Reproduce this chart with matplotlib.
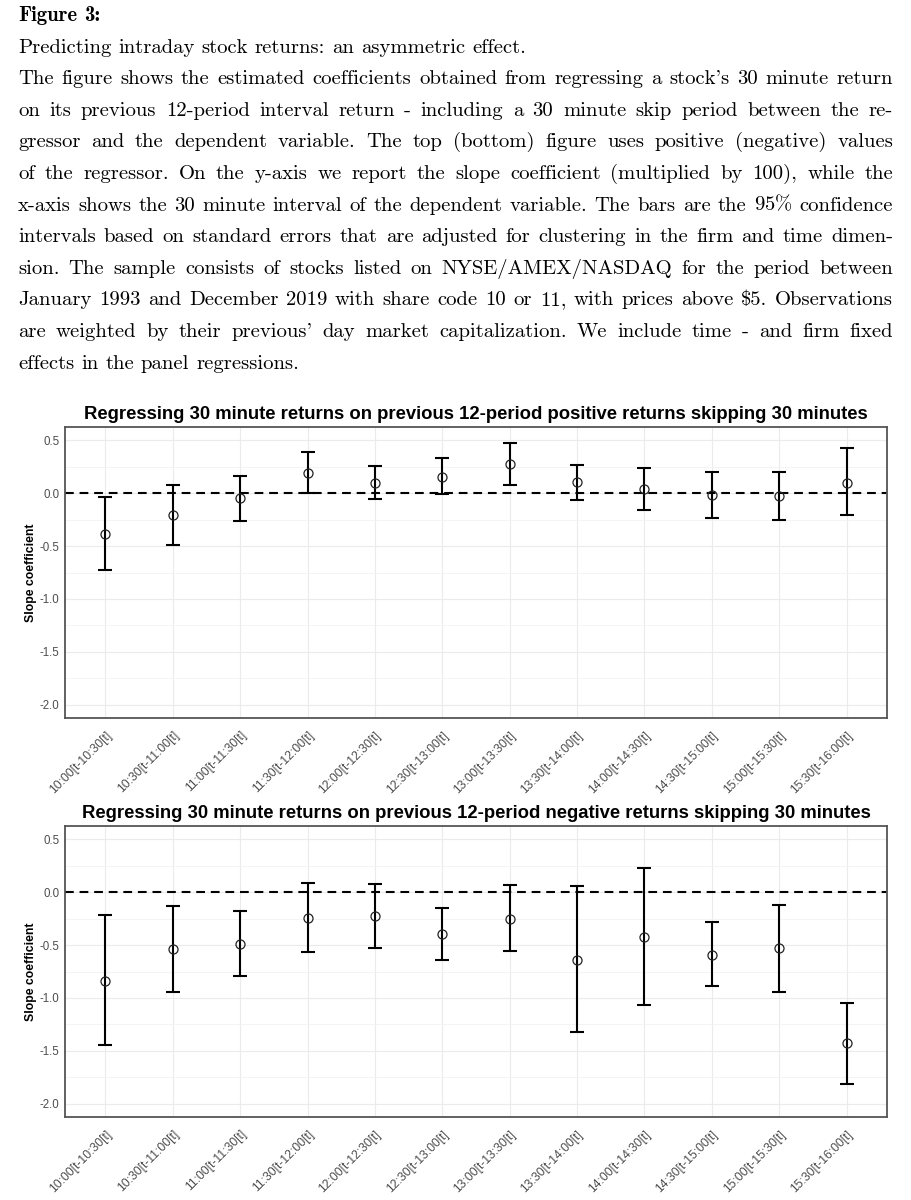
import matplotlib
matplotlib.use('Agg')
import matplotlib.pyplot as plt
import numpy as np
from matplotlib.ticker import MultipleLocator, FormatStrFormatter
from matplotlib.transforms import ScaledTranslation

plt.rcParams['mathtext.fontset'] = 'cm'

# ---------------- data ----------------
categories = ["10:00[t-10:30[t]", "10:30[t-11:00[t]", "11:00[t-11:30[t]", "11:30[t-12:00[t]",
              "12:00[t-12:30[t]", "12:30[t-13:00[t]", "13:00[t-13:30[t]", "13:30[t-14:00[t]",
              "14:00[t-14:30[t]", "14:30[t-15:00[t]", "15:00[t-15:30[t]", "15:30[t-16:00[t]"]

pos_coef = [-0.385, -0.21, -0.05, 0.195, 0.095, 0.15, 0.275, 0.105, 0.04, -0.015, -0.025, 0.10]
pos_lower = [-0.73, -0.49, -0.26, 0.0, -0.055, -0.005, 0.08, -0.065, -0.155, -0.235, -0.25, -0.21]
pos_upper = [-0.04, 0.08, 0.165, 0.39, 0.255, 0.33, 0.475, 0.27, 0.235, 0.20, 0.20, 0.425]

neg_coef = [-0.837, -0.54, -0.493, -0.246, -0.23, -0.40, -0.252, -0.637, -0.427, -0.59, -0.53, -1.425]
neg_lower = [-1.448, -0.947, -0.797, -0.568, -0.528, -0.64, -0.56, -1.326, -1.069, -0.887, -0.94, -1.81]
neg_upper = [-0.218, -0.127, -0.174, 0.086, 0.08, -0.152, 0.07, 0.055, 0.227, -0.283, -0.12, -1.047]

title_pos = "Regressing 30 minute returns on previous 12-period positive returns skipping 30 minutes"
title_neg = "Regressing 30 minute returns on previous 12-period negative returns skipping 30 minutes"
ylabel = "Slope coefficient"

heading = "Figure 3:"
subtitle = "Predicting intraday stock returns: an asymmetric effect."
caption_lines = [
    "The figure shows the estimated coefficients obtained from regressing a stock's 30 minute return",
    "on its previous 12-period interval return - including a 30 minute skip period between the re-",
    "gressor and the dependent variable.  The top (bottom) figure uses positive (negative) values",
    "of the regressor.  On the y-axis we report the slope coefficient (multiplied by 100), while the",
    "x-axis shows the 30 minute interval of the dependent variable.  The bars are the 95$\\%$ confidence",
    "intervals based on standard errors that are adjusted for clustering in the firm and time dimen-",
    "sion.  The sample consists of stocks listed on NYSE/AMEX/NASDAQ for the period between",
    "January 1993 and December 2019 with share code 10 or 11, with prices above \\$5.  Observations",
    "are weighted by their previous' day market capitalization.  We include time - and firm fixed",
    "effects in the panel regressions.",
]

# ---------------- figure ----------------
W, H = 912, 1200
fig = plt.figure(figsize=(W / 100, H / 100), dpi=100)
renderer = fig.canvas.get_renderer()

SERIF = ['cmr10', 'DejaVu Serif']
SERIF_B = ['cmb10', 'DejaVu Serif']
LEFT_PX, RIGHT_PX = 18, 893


def word_widths(words, size, family):
    ws = []
    for w in words:
        t = fig.text(0, 0, w, fontsize=size, family=family)
        ws.append(t.get_window_extent(renderer).width)
        t.remove()
    return ws


probe = 14.0
pw = word_widths(caption_lines[0].split(), probe, SERIF)
nat = sum(pw) + 0.333 * probe * 100 / 72 * (len(pw) - 1)
body_size = probe * 862 / nat


def place_line(text, y_px, justify, family, size):
    words = text.split()
    ws = word_widths(words, size, family)
    if justify and len(words) > 1:
        gap = (RIGHT_PX - LEFT_PX - sum(ws)) / (len(words) - 1)
    else:
        gap = 0.333 * size * 100 / 72
    x = LEFT_PX
    for w, wd in zip(words, ws):
        fig.text(x / W, 1 - y_px / H, w, fontsize=size, family=family,
                 va='baseline', ha='left', color='black')
        x += wd + gap


base0, step = 21, 31.6
place_line(heading, base0, False, SERIF_B, body_size)
place_line(subtitle, base0 + step, False, SERIF, body_size)
for i, line in enumerate(caption_lines):
    place_line(line, base0 + step * (i + 2), i < len(caption_lines) - 1, SERIF, body_size)

# ---------------- panels ----------------
SANS = ['Liberation Sans', 'DejaVu Sans']
ax_left = 65 / W
ax_w = (887 - 65) / W
ax_h = 0.2425
ax1 = fig.add_axes([ax_left, 1 - 718 / H, ax_w, ax_h])
ax2 = fig.add_axes([ax_left, 1 - 1117 / H, ax_w, ax_h])


def panel(ax, coef, lo, hi, title):
    x = np.arange(1, len(categories) + 1)
    coef = np.array(coef); lo = np.array(lo); hi = np.array(hi)
    ax.axhline(0, color='black', ls=(0, (4.2, 2.8)), lw=1.5, zorder=2)
    ax.errorbar(x, coef, yerr=[coef - lo, hi - coef], fmt='none', ecolor='black',
                elinewidth=1.5, capsize=5, capthick=1.5, zorder=3)
    ax.plot(x, coef, 'o', mfc='none', mec='#222222', ms=6.5, mew=0.9, zorder=4)
    ax.set_xlim(0.4, len(categories) + 0.6)
    ax.set_ylim(-2.125, 0.625)
    ax.yaxis.set_major_locator(MultipleLocator(0.5))
    ax.yaxis.set_minor_locator(MultipleLocator(0.25))
    ax.yaxis.set_major_formatter(FormatStrFormatter('%.1f'))
    ax.set_xticks(x)
    ax.set_xticklabels(categories, rotation=45, ha='right', va='top',
                       rotation_mode='anchor', fontsize=8.8, color='#4d4d4d', family=SANS)
    for lab in ax.get_xticklabels():
        lab.set_transform(lab.get_transform() + ScaledTranslation(14 / 100, 0, fig.dpi_scale_trans))
    for lab in ax.get_yticklabels():
        lab.set_family(SANS)
    ax.tick_params(axis='y', labelsize=8.3, labelcolor='#4d4d4d', length=0, pad=4)
    ax.tick_params(axis='x', length=0, pad=8)
    ax.tick_params(which='minor', length=0)
    ax.grid(which='major', color='#ebebeb', lw=0.8, zorder=0)
    ax.grid(which='minor', axis='y', color='#f3f3f3', lw=0.6, zorder=0)
    ax.set_axisbelow(True)
    for s in ax.spines.values():
        s.set_color('#555555')
        s.set_linewidth(1.3)
    ax.set_title(title, fontsize=13.3, weight='bold', family=SANS, pad=6)
    bb = ax.get_position()
    fig.text(31 / W, bb.y0 + bb.height / 2, ylabel, rotation=90, ha='center', va='center',
             fontsize=8.8, weight='bold', family=SANS)


panel(ax1, pos_coef, pos_lower, pos_upper, title_pos)
panel(ax2, neg_coef, neg_lower, neg_upper, title_neg)

fig.savefig('out.png', dpi=100, facecolor='white')
